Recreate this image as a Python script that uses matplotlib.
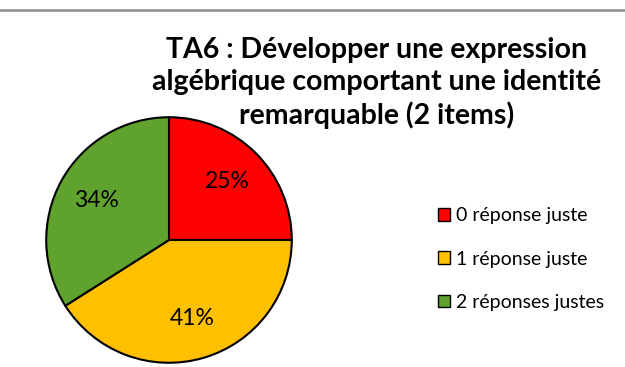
import matplotlib
matplotlib.use("Agg")
import numpy as np
import matplotlib.pyplot as plt
from matplotlib.lines import Line2D
from matplotlib.patches import Patch

plt.rcParams['font.family'] = ['Lato', 'DejaVu Sans']

categories = ["0 réponse juste", "1 réponse juste", "2 réponses justes"]
values = [25, 41, 34]
colors = ["#ff0000", "#ffc000", "#5fa22e"]
title = "TA6 : Développer une expression\nalgébrique comportant une identité\nremarquable (2 items)"

W, H = 625, 367
fig = plt.figure(figsize=(W / 100, H / 100), dpi=100)

# thin grey rule across the top
fig.add_artist(Line2D([0, 1], [1 - 9.5 / H, 1 - 9.5 / H], color="#8c8c8c", lw=1.8,
                      transform=fig.transFigure))

cx, cy, r = 169, 240, 124
ax = fig.add_axes([(cx - r) / W, (H - cy - r) / H, 2 * r / W, 2 * r / H])
wedges, texts = ax.pie(values, colors=colors, startangle=90, counterclock=False,
                       wedgeprops=dict(edgecolor="black", linewidth=1.5))
for w, v in zip(wedges, values):
    ang = np.deg2rad((w.theta1 + w.theta2) / 2)
    d = 0.67
    ax.text(d * np.cos(ang), d * np.sin(ang), f"{v}%", ha="center", va="center",
            fontsize=16.5, color="black")
ax.set_xlim(-1.01, 1.01)
ax.set_ylim(-1.01, 1.01)
ax.set_aspect("equal")
ax.axis("off")

fig.text(377 / W, 1 - 83 / H, title, ha="center", va="center", fontsize=20.5,
         fontweight="bold", linespacing=1.27)

handles = [Patch(facecolor=c, edgecolor="black", linewidth=1.0) for c in colors]
fig.legend(handles, categories, loc="center left", bbox_to_anchor=(430 / W, 1 - 259 / H),
           frameon=False, fontsize=14, handlelength=0.62, handleheight=0.62,
           handletextpad=0.3, labelspacing=1.35, borderaxespad=0)

fig.savefig("out.png", dpi=100)
